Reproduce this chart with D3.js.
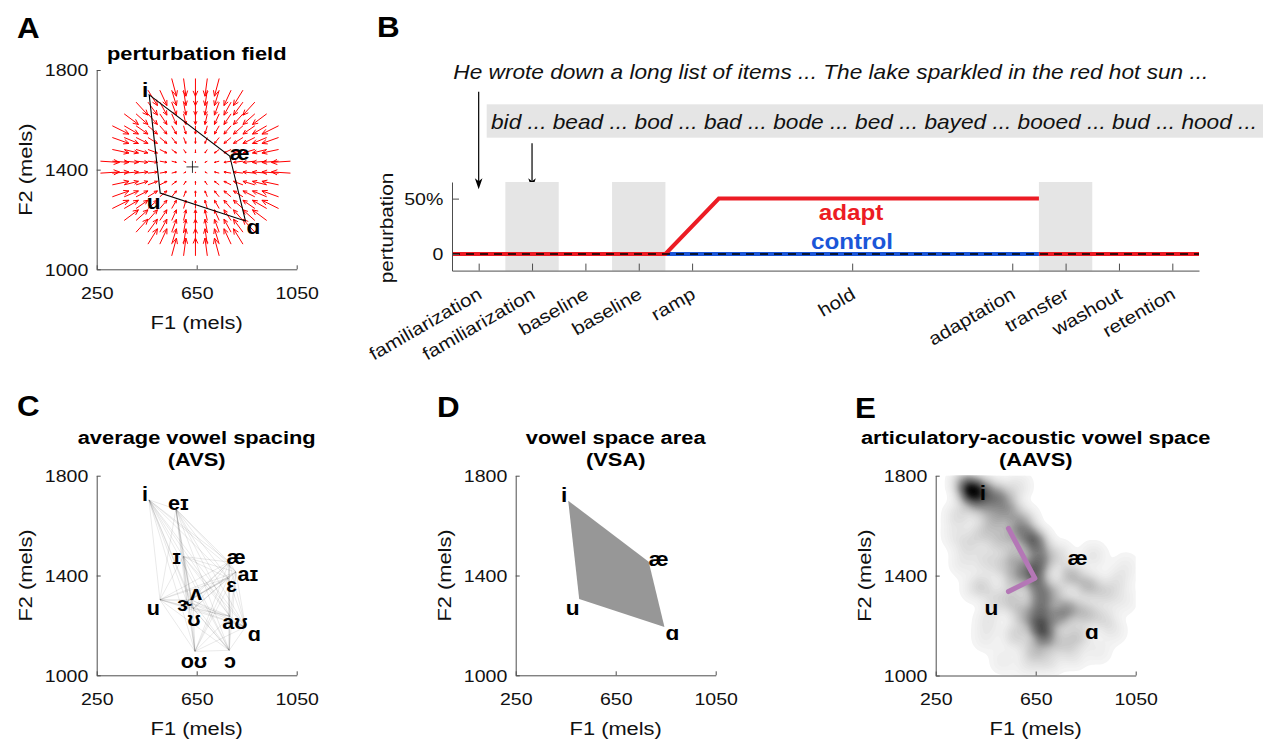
<!DOCTYPE html>
<html>
<head>
<meta charset="utf-8">
<script src="https://cdn.jsdelivr.net/npm/d3@7"></script>
<style>
    body { margin: 0; background: #fff; }
    svg text { font-family: "Liberation Sans", Arial, Helvetica, "DejaVu Sans", sans-serif; }
</style>
</head>
<body>
<svg id="fig" width="1263" height="740"></svg>
<script>
// ---- shared formant axes ----
const f1Ticks = [250, 650, 1050];
const f2Ticks = [1000, 1400, 1800];

// ---- A / D : corner vowels ----
const cornerVowels = ['i', 'æ', 'ɑ', 'u'];
const cornerF1 = [460, 782, 845, 504];
const cornerF2 = [1700, 1455, 1194, 1306];
const vowelCentroid = [633, 1411];

// perturbation field (quiver grid, pushes toward the centre)
const fieldCenter = [645, 1410];
const fieldRadius = 382;
const fieldGain = 0.2;
const fieldGridF1 = [265, 312.5, 360, 407.5, 455, 502.5, 550, 597.5, 645, 692.5, 740, 787.5, 835, 882.5, 930, 977.5, 1025];
const fieldGridF2 = [1054, 1101, 1149, 1196, 1244, 1291, 1339, 1386, 1434, 1481, 1529, 1576, 1624, 1671, 1719, 1766];

// ---- B : protocol ----
const phaseTicks = [0.5, 1.5, 2.5, 3.5, 4.5, 7.5, 10.5, 11.5, 12.5, 13.5];
const phaseLabels = ['familiarization', 'familiarization', 'baseline', 'baseline', 'ramp', 'hold', 'adaptation', 'transfer', 'washout', 'retention'];
const shadedBlocks = [[1, 2], [3, 4], [11, 12]];
const adaptBlock = [0, 4, 5, 11, 11, 11, 14];
const adaptPert = [0, 0, 50, 50, null, 0, 0];
const controlBlock = [0, 11];
const controlPert = [0, 0];
const pertTicks = [0, 50];
const pertTickLabels = ['0', '50%'];
const sentenceText = 'He wrote down a long list of items ... The lake sparkled in the red hot sun ...';
const wordText = 'bid ... bead ... bod ... bad ... bode ... bed ... bayed ... booed ... bud ... hood ...';

// ---- C : all vowels ----
const avsVowels = ['i', 'eɪ', 'ɪ', 'æ', 'aɪ', 'ɛ', 'ʌ', 'u', 'ɝ', 'ʊ', 'aʊ', 'ɑ', 'oʊ', 'ɔ'];
const avsF1 = [459, 567, 596, 780, 807, 776, 627, 503, 610, 637, 783, 845, 643, 780];
const avsF2 = [1703, 1666, 1476, 1454, 1414, 1390, 1303, 1303, 1296, 1267, 1236, 1194, 1096, 1100];

// ---- E : articulatory-acoustic density ----
const aavsF1 = [365, 400, 385, 440, 495, 470, 420, 540, 580, 340,
    480, 540, 600, 620, 560, 500, 430, 380,
    655, 665, 650, 660, 670, 665, 690, 640,
    570, 600, 560, 520, 450, 440, 490, 560, 600, 570, 460,
    740, 790, 860, 930, 980, 720, 780, 740, 850, 920, 820, 760, 880, 700, 800, 960,
    330, 360, 400, 450, 520, 620, 900, 1000, 1010];
const aavsF2 = [1770, 1740, 1720, 1750, 1725, 1690, 1680, 1700, 1760, 1640,
    1620, 1650, 1620, 1560, 1570, 1540, 1570, 1520,
    1530, 1460, 1400, 1340, 1270, 1200, 1150, 1100,
    1480, 1420, 1380, 1440, 1460, 1360, 1300, 1300, 1240, 1160, 1220,
    1480, 1400, 1360, 1330, 1380, 1330, 1270, 1230, 1250, 1230, 1160, 1130, 1480, 1060, 1080, 1180,
    1560, 1450, 1350, 1150, 1060, 1040, 1100, 1300, 1440];
const aavsWeight = [1.6, 2.4, 1.2, 1.3, 1.4, 1.1, 1.1, 0.9, 0.5, 0.7,
    1.2, 1.3, 1.3, 1.6, 1.2, 1, 0.8, 0.6,
    2, 2.2, 1.9, 1.9, 2.2, 2.6, 1.9, 1,
    1.2, 1.4, 1, 0.8, 0.7, 0.7, 0.7, 1, 1.2, 0.9, 0.5,
    0.8, 1.4, 1.4, 0.8, 0.5, 1.2, 1.6, 1.6, 1.2, 0.7, 1, 0.8, 0.5, 0.7, 0.5, 0.4,
    0.4, 0.4, 0.35, 0.35, 0.35, 0.4, 0.35, 0.35, 0.3];
const aavsVowels = ['i', 'æ', 'u', 'ɑ'];
const aavsLabelF1 = [439, 818, 473, 875];
const aavsLabelF2 = [1731, 1473, 1273, 1173];
const trajF1 = [541, 647, 541];
const trajF2 = [1589, 1389, 1336];

const SX = 1.15;
const AXIS = '#4d4d4d';
const INK = '#111';
const RED = '#ec1c24';
const BLUE = '#1b56d8';

let svg = d3.select('#fig');

function fig() {
    fig.letters();
    fig.panelA();
    fig.panelB();
    fig.panelC();
    fig.panelD();
    fig.panelE();
}

function txt(g, x, y, s, o = {}) {
    return g.append('text')
        .attr('transform', `translate(${x},${y})` + (o.rotate ? ` rotate(${o.rotate})` : '') + ` scale(${o.sx || SX},1)`)
        .attr('font-size', o.size || 17)
        .attr('font-weight', o.bold ? 'bold' : null)
        .attr('font-style', o.italic ? 'italic' : null)
        .attr('text-anchor', o.anchor || 'start')
        .attr('dominant-baseline', o.baseline || null)
        .attr('fill', o.fill || INK)
        .text(s);
}

fig.letters = function () {
    [['A', 17, 38], ['B', 377, 37], ['C', 17, 416], ['D', 437, 417], ['E', 855, 418]].forEach(function (l) {
        txt(svg, l[1], l[2], l[0], {size: 29, bold: true, sx: 1.08, fill: '#000'});
    });
};

// formant plane frame: scales + MATLAB-like axes (inward ticks)
fig.frame = function (g, left, top, bottom, title) {
    let x = d3.scaleLinear().domain([250, 1050]).range([left, left + 200]);
    let y = d3.scaleLinear().domain([1000, 1800]).range([bottom, top]);
    g.append('clipPath').attr('id', 'clip' + left).append('rect')
        .attr('x', left).attr('y', top).attr('width', 200).attr('height', bottom - top);
    let draw = function () {
        let ax = g.append('g').attr('transform', `translate(0,${bottom})`)
            .call(d3.axisBottom(x).tickValues(f1Ticks).tickSizeInner(-4).tickSizeOuter(0).tickFormat(d3.format('d')));
        ax.selectAll('text').attr('y', null).attr('dy', null)
            .attr('transform', `translate(0,29.5) scale(${SX},1)`);
        let ay = g.append('g').attr('transform', `translate(${left},0)`)
            .call(d3.axisLeft(y).tickValues(f2Ticks).tickSizeInner(-4).tickSizeOuter(0).tickFormat(d3.format('d')));
        ay.selectAll('text').attr('x', null).attr('dy', '0.35em')
            .attr('transform', `translate(-8.4,0) scale(${SX},1)`);
        [ax, ay].forEach(function (a) {
            a.attr('font-size', 17).attr('font-family', null);
            a.select('.domain').attr('stroke', AXIS);
            a.selectAll('.tick line').attr('stroke', AXIS);
            a.selectAll('text').attr('fill', INK);
        });
        txt(g, left + 100, bottom + 59.5, 'F1 (mels)', {size: 19, anchor: 'middle'});
        txt(g, left - 64.5, (top + bottom) / 2, 'F2 (mels)', {size: 19, anchor: 'middle', rotate: -90});
        title.forEach(function (t, i) {
            txt(g, left + 100, top - 10 - (title.length - 1 - i) * 22, t, {size: 19, bold: true, anchor: 'middle', fill: '#000'});
        });
    };
    return {x: x, y: y, draw: draw, clip: 'url(#clip' + left + ')'};
};

fig.vowelLabels = function (g, f, names, f1, f2, offs, size) {
    names.forEach(function (v, i) {
        let o = offs[v] || [0, 0];
        txt(g, f.x(f1[i]) + o[0], f.y(f2[i]) + o[1], v, {size: size || 21, bold: true, anchor: 'middle', baseline: 'central', fill: '#000', sx: 1.08});
    });
};

const cornerOffsets = {'i': [-4, -5.5], 'æ': [10, -3], 'ɑ': [8, 6], 'u': [-6.5, 9]};

fig.panelA = function () {
    let g = svg.append('g');
    let f = fig.frame(g, 96.7, 70, 269.3, ['perturbation field']);
    let x = f.x, y = f.y;

    let grid = [];
    fieldGridF1.forEach(function (a) {
        fieldGridF2.forEach(function (b) {
            if (Math.hypot(a - fieldCenter[0], b - fieldCenter[1]) <= fieldRadius) grid.push([a, b]);
        });
    });
    g.append('g').selectAll('path').data(grid).join('path')
        .attr('d', function (p) {
            let x0 = x(p[0]), y0 = y(p[1]);
            let x1 = x(p[0] + fieldGain * (fieldCenter[0] - p[0]));
            let y1 = y(p[1] + fieldGain * (fieldCenter[1] - p[1]));
            let a = Math.atan2(y1 - y0, x1 - x0);
            let h = 0.33 * Math.hypot(x1 - x0, y1 - y0);
            return `M${x0},${y0}L${x1},${y1}` +
                `M${x1 - h * Math.cos(a - 0.42)},${y1 - h * Math.sin(a - 0.42)}L${x1},${y1}` +
                `L${x1 - h * Math.cos(a + 0.42)},${y1 - h * Math.sin(a + 0.42)}`;
        })
        .attr('fill', 'none').attr('stroke', '#ff0000').attr('stroke-width', 1);

    let quad = cornerF1.map((d, i) => [x(d), y(cornerF2[i])]);
    g.append('path').attr('d', d3.line().curve(d3.curveLinearClosed)(quad))
        .attr('fill', 'none').attr('stroke', '#000').attr('stroke-width', 1.1);

    let cx = x(vowelCentroid[0]), cy = y(vowelCentroid[1]);
    g.append('path').attr('d', `M${cx - 6},${cy}H${cx + 6}M${cx},${cy - 6}V${cy + 6}`)
        .attr('stroke', '#000').attr('stroke-width', 0.8);

    fig.vowelLabels(g, f, cornerVowels, cornerF1, cornerF2, cornerOffsets);
    f.draw();
};

fig.panelB = function () {
    let g = svg.append('g');
    let x = d3.scaleLinear().domain([0, 14]).range([452, 1199]);
    let y = d3.scaleLinear().domain([-15, 65]).range([270.6, 182]);

    // sentence + word list
    txt(g, 453.3, 79.3, sentenceText, {size: 21, italic: true, sx: 1}).attr('textLength', 755).attr('lengthAdjust', 'spacingAndGlyphs');
    g.append('rect').attr('x', 486.7).attr('y', 104.3).attr('width', 1263 - 486.7).attr('height', 33.4).attr('fill', '#e5e5e5');
    txt(g, 491, 129.3, wordText, {size: 21, italic: true, sx: 1}).attr('textLength', 766).attr('lengthAdjust', 'spacingAndGlyphs');

    // arrows to the familiarization blocks
    [[phaseTicks[0], 91.7], [phaseTicks[1], 143.3]].forEach(function (a) {
        let ax = x(a[0]), tip = 189.3;
        g.append('line').attr('x1', ax).attr('x2', ax).attr('y1', a[1]).attr('y2', tip - 6)
            .attr('stroke', '#000').attr('stroke-width', 1.2);
        g.append('path').attr('d', `M${ax},${tip}L${ax - 3.8},${tip - 11}L${ax},${tip - 8}L${ax + 3.8},${tip - 11}Z`)
            .attr('fill', '#000');
    });

    g.append('g').selectAll('rect').data(shadedBlocks).join('rect')
        .attr('x', d => x(d[0])).attr('width', d => x(d[1]) - x(d[0]))
        .attr('y', y(65)).attr('height', y(-15) - y(65))
        .attr('fill', '#e5e5e5');

    let line = d3.line().defined(d => d.p !== null).x(d => x(d.b)).y(d => y(d.p));
    let control = controlBlock.map((b, i) => ({b: b, p: controlPert[i]}));
    let adapt = adaptBlock.map((b, i) => ({b: b, p: adaptPert[i]}));
    g.append('path').attr('d', line(control)).attr('fill', 'none').attr('stroke', BLUE).attr('stroke-width', 4);
    g.append('path').attr('d', line(adapt)).attr('fill', 'none').attr('stroke', RED).attr('stroke-width', 4);
    g.append('line').attr('x1', x(0)).attr('x2', x(14)).attr('y1', y(0)).attr('y2', y(0))
        .attr('stroke', '#000').attr('stroke-width', 1.3).attr('stroke-dasharray', '8,6');

    txt(g, 851, 220, 'adapt', {size: 22, bold: true, anchor: 'middle', fill: RED, sx: 1.1});
    txt(g, 852, 249.3, 'control', {size: 22, bold: true, anchor: 'middle', fill: BLUE, sx: 1.1});

    let ax = g.append('g').attr('transform', `translate(0,${y(-15)})`)
        .call(d3.axisBottom(x).tickValues(phaseTicks).tickSizeInner(-7).tickSizeOuter(0).tickFormat((d, i) => phaseLabels[i]));
    ax.selectAll('text').attr('y', null).attr('dy', null).attr('text-anchor', 'end')
        .attr('transform', `translate(4,27) rotate(-30) scale(${SX},1)`).attr('font-size', 18);
    let ay = g.append('g').attr('transform', `translate(${x(0)},0)`)
        .call(d3.axisLeft(y).tickValues(pertTicks).tickSizeInner(-7).tickSizeOuter(0).tickFormat((d, i) => pertTickLabels[i]));
    ay.selectAll('text').attr('x', null).attr('dy', '0.35em')
        .attr('transform', `translate(-8.7,0) scale(${SX},1)`);
    [ax, ay].forEach(function (a) {
        a.attr('font-size', 17).attr('font-family', null);
        a.select('.domain').attr('stroke', AXIS);
        a.selectAll('.tick line').attr('stroke', AXIS);
        a.selectAll('text').attr('fill', INK);
    });
    txt(g, 393, 228, 'perturbation', {size: 18, anchor: 'middle', rotate: -90});
};

fig.panelC = function () {
    let g = svg.append('g');
    let f = fig.frame(g, 96.7, 475.7, 675.3, ['average vowel spacing', '(AVS)']);
    let pts = avsF1.map((d, i) => [f.x(d), f.y(avsF2[i])]);
    let pairs = [];
    d3.range(pts.length).forEach(function (i) {
        d3.range(i + 1, pts.length).forEach(function (j) { pairs.push([pts[i], pts[j]]); });
    });
    g.append('g').selectAll('line').data(pairs).join('line')
        .attr('x1', d => d[0][0]).attr('y1', d => d[0][1])
        .attr('x2', d => d[1][0]).attr('y2', d => d[1][1])
        .attr('stroke', '#000').attr('stroke-opacity', 0.11).attr('stroke-width', 0.8);
    let offs = {
        'i': [-4, -6], 'eɪ': [2.5, -6.5], 'ɪ': [-6.5, 0], 'æ': [7, -5.5], 'aɪ': [12, 1.5],
        'ɛ': [3.5, 7], 'ʌ': [5, -6.5], 'u': [-6.5, 8.5], 'ɝ': [-2, 2], 'ʊ': [0.5, 10.5],
        'aʊ': [5, 5], 'ɑ': [9, 6.5], 'oʊ': [-1, 9], 'ɔ': [0.7, 10]
    };
    fig.vowelLabels(g, f, avsVowels, avsF1, avsF2, offs, 20);
    f.draw();
};

fig.panelD = function () {
    let g = svg.append('g');
    let f = fig.frame(g, 515.7, 475.7, 675.3, ['vowel space area', '(VSA)']);
    let quad = cornerF1.map((d, i) => [f.x(d), f.y(cornerF2[i])]);
    g.append('path').attr('d', d3.line().curve(d3.curveLinearClosed)(quad)).attr('fill', '#979797');
    fig.vowelLabels(g, f, cornerVowels, cornerF1, cornerF2, cornerOffsets);
    f.draw();
};

fig.panelE = function () {
    let g = svg.append('g');
    let f = fig.frame(g, 935.7, 475.7, 675.5, ['articulatory-acoustic vowel space', '(AAVS)']);
    let pts = aavsF1.map((d, i) => ({f1: d, f2: aavsF2[i], w: aavsWeight[i]}));
    let contours = d3.contourDensity()
        .x(d => f.x(d.f1)).y(d => f.y(d.f2)).weight(d => d.w)
        .size([1263, 740]).cellSize(2).bandwidth(7.5).thresholds(60)(pts);
    let maxV = d3.max(contours, d => d.value);
    g.append('g').attr('clip-path', f.clip).selectAll('path').data(contours).join('path')
        .attr('d', d3.geoPath())
        .attr('fill', d => d3.interpolateGreys(0.06 + 0.92 * Math.pow(d.value / maxV, 0.9)));

    let traj = trajF1.map((d, i) => [f.x(d), f.y(trajF2[i])]);
    g.append('path').attr('d', d3.line()(traj)).attr('fill', 'none')
        .attr('stroke', '#b477b6').attr('stroke-width', 5).attr('stroke-linecap', 'round').attr('stroke-linejoin', 'round');

    fig.vowelLabels(g, f, aavsVowels, aavsLabelF1, aavsLabelF2, {});
    f.draw();
};

fig();
</script>
</body>
</html>
